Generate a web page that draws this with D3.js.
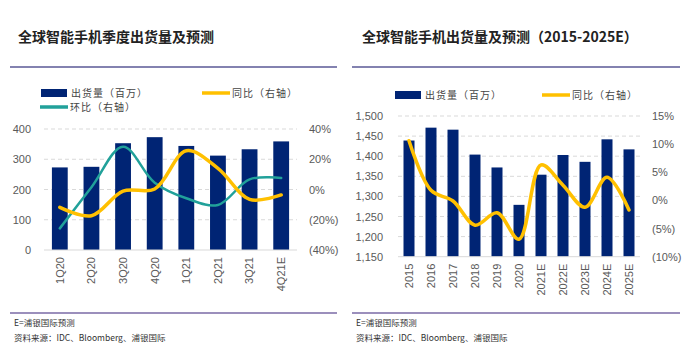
<!DOCTYPE html>
<meta charset="utf-8">
<style>
body { margin: 0; background: #fff; }
svg text { font-family: "Liberation Sans", "Noto Sans CJK SC", sans-serif; fill: #595959; }
.title { font-family: "Noto Sans CJK SC", sans-serif; font-size: 14px; font-weight: 700; fill: #222; }
.cjk { font-family: "Noto Sans CJK SC", sans-serif; }
.tick text { font-size: 11px; }
.grid line { stroke: #d9d9d9; stroke-dasharray: 4,3; }
.note { font-family: "Noto Sans CJK SC", sans-serif; font-size: 8.5px; fill: #333; }
</style>
<body>
<div id="chart"></div>
<script src="https://d3js.org/d3.v7.min.js"></script>
<script>
// quarterly chart data
var quarters = ["1Q20", "2Q20", "3Q20", "4Q20", "1Q21", "2Q21", "3Q21", "4Q21E"];
var qShip = [273, 275, 353, 373, 344, 312, 333, 359];
var qYoY = [-11.8, -17.3, -1.0, 0.3, 25.6, 14.0, -6.5, -3.6];
var qQoQ = [-25.7, 1.5, 28.3, 4.5, -5.8, -10.2, 6.7, 7.6];
var qLeftTicks = [0, 100, 200, 300, 400];
var qRightTicks = [-40, -20, 0, 20, 40];

// annual chart data
var years = ["2015", "2016", "2017", "2018", "2019", "2020", "2021E", "2022E", "2023E", "2024E", "2025E"];
var yShip = [1439, 1471, 1466, 1404, 1372, 1279, 1354, 1403, 1386, 1442, 1417];
var yYoY = [10.6, 1.8, -0.1, -4.4, -2.2, -6.9, 6.3, 2.7, -1.2, 4.1, -1.7];
var yLeftTicks = [1150, 1200, 1250, 1300, 1350, 1400, 1450, 1500];
var yRightTicks = [-10, -5, 0, 5, 10, 15];

var navy = "#002474", gold = "#ffc000", teal = "#21a19a";

var svg = d3.select("#chart").append("svg")
    .attr("width", 700)
    .attr("height", 354);

function pct(v) { return v < 0 ? "(" + Math.abs(v) + "%)" : v + "%"; }

function panel(opt) {
  var g = svg.append("g");
  // title and rules
  g.append("text").attr("class", "title").attr("x", opt.titleX).attr("y", 42).text(opt.title);
  g.append("line").attr("x1", opt.ruleX0).attr("x2", opt.ruleX1).attr("y1", 67).attr("y2", 67)
      .attr("stroke", "#5a5896").attr("stroke-width", 1.5);
  g.append("line").attr("x1", opt.ruleX0).attr("x2", opt.ruleX1).attr("y1", 313).attr("y2", 313)
      .attr("stroke", "#7a6aa6").attr("stroke-width", 1.5);
  g.append("text").attr("class", "note").attr("x", opt.ruleX0 + 4).attr("y", 326).text("E=浦银国际预测");
  g.append("text").attr("class", "note").attr("x", opt.ruleX0 + 4).attr("y", 341).text("资料来源：IDC、Bloomberg、浦银国际");

  var x = d3.scaleBand().domain(opt.cats).range([opt.x0, opt.x1]).paddingInner(0.5).paddingOuter(0.25);
  var y = d3.scaleLinear().domain(opt.leftDomain).range([opt.yBottom, opt.yTop]);
  var y2 = d3.scaleLinear().domain(opt.rightDomain).range([opt.yBottom, opt.yTop]);

  // gridlines
  g.append("g").attr("class", "grid")
    .selectAll("line").data(opt.leftTicks.slice(1)).join("line")
      .attr("x1", opt.x0).attr("x2", opt.x1)
      .attr("y1", function(d) { return y(d); }).attr("y2", function(d) { return y(d); });

  // left axis
  var la = g.append("g").attr("transform", "translate(" + opt.x0 + ",0)")
      .call(d3.axisLeft(y).tickValues(opt.leftTicks).tickSize(0).tickPadding(opt.lPad).tickFormat(d3.format(",")));
  la.select(".domain").remove();
  // right axis
  var ra = g.append("g").attr("transform", "translate(" + opt.x1 + ",0)")
      .call(d3.axisRight(y2).tickValues(opt.rightTicks).tickSize(0).tickPadding(opt.rPad).tickFormat(pct));
  ra.select(".domain").remove();
  ra.selectAll("text").attr("text-anchor", "start");

  // bars
  g.selectAll(".bar").data(opt.ship).join("rect")
      .attr("x", function(d, i) { return x(opt.cats[i]); })
      .attr("width", x.bandwidth())
      .attr("y", function(d) { return y(d); })
      .attr("height", function(d) { return opt.yBottom - y(d); })
      .attr("fill", navy);

  // baseline
  g.append("line").attr("x1", opt.x0).attr("x2", opt.x1).attr("y1", opt.yBottom).attr("y2", opt.yBottom)
      .attr("stroke", "#d9d9d9");

  // x axis labels
  var xa = g.append("g").attr("transform", "translate(0," + opt.yBottom + ")")
      .call(d3.axisBottom(x).tickSize(0).tickPadding(0));
  xa.select(".domain").remove();
  xa.selectAll("text")
      .attr("transform", "rotate(-90)")
      .attr("text-anchor", "end")
      .attr("x", -7).attr("y", 0).attr("dy", "0.35em");

  // lines
  var line = d3.line()
      .x(function(d, i) { return x(opt.cats[i]) + x.bandwidth() / 2; })
      .y(function(d) { return y2(d); })
      .curve(d3.curveCatmullRom.alpha(0.5));
  opt.lines.forEach(function(l) {
    g.append("path").datum(l.values)
      .attr("fill", "none").attr("stroke", l.color).attr("stroke-width", l.w)
      .attr("stroke-linecap", "round")
      .attr("d", line);
  });

  // legend
  opt.legend.forEach(function(l) {
    if (l.bar) {
      g.append("rect").attr("x", l.x).attr("y", l.y - 4).attr("width", 26).attr("height", 8).attr("fill", l.color);
    } else {
      g.append("line").attr("x1", l.x).attr("x2", l.x + 28).attr("y1", l.y).attr("y2", l.y)
        .attr("stroke", l.color).attr("stroke-width", 3.5);
    }
    g.append("text").attr("class", "cjk").attr("x", l.x + 30).attr("y", l.y).attr("dy", "0.35em")
      .style("font-size", "10px").style("letter-spacing", "1px").style("fill", "#444").text(l.text);
  });
}

panel({
  title: "全球智能手机季度出货量及预测", titleX: 18,
  ruleX0: 10, ruleX1: 337,
  cats: quarters, ship: qShip,
  x0: 44, x1: 297, yTop: 129, yBottom: 250,
  leftDomain: [0, 400], rightDomain: [-40, 40],
  leftTicks: qLeftTicks, rightTicks: qRightTicks,
  lPad: 13, rPad: 12,
  lines: [
    { values: qQoQ, color: teal, w: 2.5 },
    { values: qYoY, color: gold, w: 3.5 }
  ],
  legend: [
    { x: 41, y: 93, color: navy, bar: true, text: "出货量（百万）" },
    { x: 202, y: 93, color: gold, text: "同比（右轴）" },
    { x: 40, y: 107, color: teal, text: "环比（右轴）" }
  ]
});

panel({
  title: "全球智能手机出货量及预测（2015-2025E）", titleX: 362,
  ruleX0: 352, ruleX1: 680,
  cats: years, ship: yShip,
  x0: 398, x1: 640, yTop: 116, yBottom: 256.7,
  leftDomain: [1150, 1500], rightDomain: [-10, 15],
  leftTicks: yLeftTicks, rightTicks: yRightTicks,
  lPad: 15, rPad: 12,
  lines: [
    { values: yYoY, color: gold, w: 3.5 }
  ],
  legend: [
    { x: 395, y: 95, color: navy, bar: true, text: "出货量（百万）" },
    { x: 542, y: 95, color: gold, text: "同比（右轴）" }
  ]
});
</script>
</body>
